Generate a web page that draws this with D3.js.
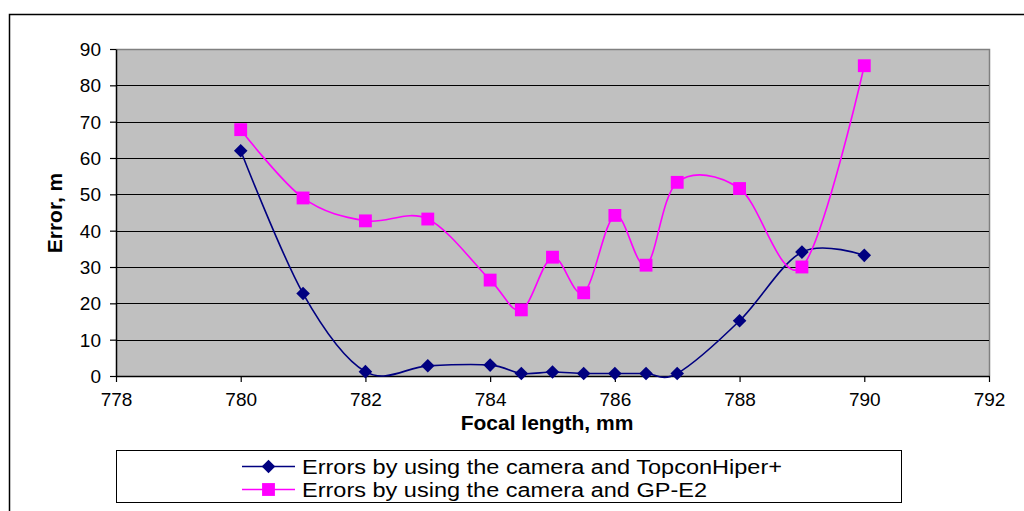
<!DOCTYPE html>
<html><head><meta charset="utf-8">
<script src="https://cdn.jsdelivr.net/npm/d3@7"></script>
<style>html,body{margin:0;padding:0;background:#fff;}svg{display:block;font-family:Arial,"Liberation Sans",sans-serif;}</style>
</head><body>
<svg id="c" width="1024" height="511"></svg>
<script>
const focalLengths = [780, 781, 782, 783, 784, 784.5, 785, 785.5, 786, 786.5, 787, 788, 789, 790];
const topconErrors = [62, 22.7, 1.2, 2.8, 3.0, 0.7, 1.1, 0.7, 0.7, 0.7, 0.7, 15.2, 34.1, 33.2];
const gpe2Errors = [67.8, 49.0, 42.7, 43.2, 26.4, 18.2, 32.7, 22.9, 44.2, 30.5, 53.3, 51.6, 30.0, 85.4];
const xTicks = [778, 780, 782, 784, 786, 788, 790, 792];
const yTicks = [0, 10, 20, 30, 40, 50, 60, 70, 80, 90];
const seriesNames = ["Errors by using the camera and TopconHiper+", "Errors by using the camera and GP-E2"];

const svg = d3.select("#c");
const L = 116, T = 49, R = 989, B = 376;
const x = d3.scaleLinear().domain([778, 792]).range([L, R]);
const y = d3.scaleLinear().domain([0, 90]).range([B, T]);

// outer chart border
svg.append("path").attr("d", "M9.5,520 L9.5,14.5 L1030,14.5").attr("fill", "none").attr("stroke", "#000").attr("stroke-width", 1.5);

// plot area
svg.append("rect").attr("x", L).attr("y", T).attr("width", R - L).attr("height", B - T).attr("fill", "#c0c0c0");
svg.append("path").attr("d", `M${L},${T+0.5} L${R+0.5},${T+0.5} L${R+0.5},${B}`).attr("fill", "none").attr("stroke", "#808080").attr("stroke-width", 1.5);

// gridlines
svg.append("g").selectAll("line").data(yTicks.filter(d => d > 0 && d < 90)).join("line")
  .attr("x1", L).attr("x2", R).attr("y1", d => Math.round(y(d)) + 0.5).attr("y2", d => Math.round(y(d)) + 0.5)
  .attr("stroke", "#000").attr("stroke-width", 1);

// axes
const yAxis = d3.axisLeft(y).tickValues(yTicks).tickSize(6).tickPadding(9).tickSizeOuter(0);
const gy = svg.append("g").attr("transform", `translate(${L},0)`).call(yAxis);
const xAxis = d3.axisBottom(x).tickValues(xTicks).tickFormat(d3.format("d")).tickSize(6).tickPadding(10).tickSizeOuter(0);
const gx = svg.append("g").attr("transform", `translate(0,${B})`).call(xAxis);
[gx, gy].forEach(g => {
  g.select(".domain").attr("stroke", "#000").attr("stroke-width", 1.5);
  g.selectAll(".tick line").attr("stroke", "#000").attr("stroke-width", 1.2);
  g.selectAll("text").attr("fill", "#000").attr("font-size", 19).attr("font-family", "Arial, 'Liberation Sans', sans-serif");
});
gy.selectAll("text").attr("dy", "0.35em");
gx.selectAll("text").attr("dy", "0.72em");

// axis titles
svg.append("text").attr("x", 547).attr("y", 430).attr("text-anchor", "middle")
  .attr("font-weight", "bold").attr("font-size", 21).text("Focal length, mm");
svg.append("text").attr("transform", "translate(62,213) rotate(-90)").attr("text-anchor", "middle")
  .attr("font-weight", "bold").attr("font-size", 21).text("Error, m");

// series
const line = d3.line().x(d => x(d[0])).y(d => y(d[1])).curve(d3.curveCatmullRom.alpha(0));
const series = [
  {vals: topconErrors, color: "#000080", sym: d3.symbolSquare, size: 92, rot: 45},
  {vals: gpe2Errors, color: "#ff00ff", sym: d3.symbolSquare, size: 165, rot: 0}
];
series.forEach(s => {
  const pts = focalLengths.map((f, i) => [f, s.vals[i]]);
  svg.append("path").attr("d", line(pts)).attr("fill", "none").attr("stroke", s.color).attr("stroke-width", 1.6);
});
series.forEach(s => {
  const pts = focalLengths.map((f, i) => [f, s.vals[i]]);
  svg.append("g").selectAll("path").data(pts).join("path")
    .attr("transform", d => `translate(${x(d[0])},${y(d[1])}) rotate(${s.rot})`)
    .attr("d", d3.symbol().type(s.sym).size(s.size)).attr("fill", s.color);
});

// legend
svg.append("rect").attr("x", 116.5).attr("y", 450.5).attr("width", 785).attr("height", 52)
  .attr("fill", "#fff").attr("stroke", "#000").attr("stroke-width", 1);
const legW = [480, 405];
series.forEach((s, i) => {
  const ly = 466.5 + i * 23;
  svg.append("line").attr("x1", 242).attr("x2", 295).attr("y1", ly).attr("y2", ly).attr("stroke", s.color).attr("stroke-width", 1.6);
  svg.append("path").attr("transform", `translate(268.5,${ly}) rotate(${s.rot})`).attr("d", d3.symbol().type(s.sym).size(s.size)).attr("fill", s.color);
  svg.append("text").attr("x", 302).attr("y", ly + 7.5).attr("font-size", 20)
    .attr("textLength", legW[i]).attr("lengthAdjust", "spacingAndGlyphs").text(seriesNames[i]);
});
</script>
</body></html>
